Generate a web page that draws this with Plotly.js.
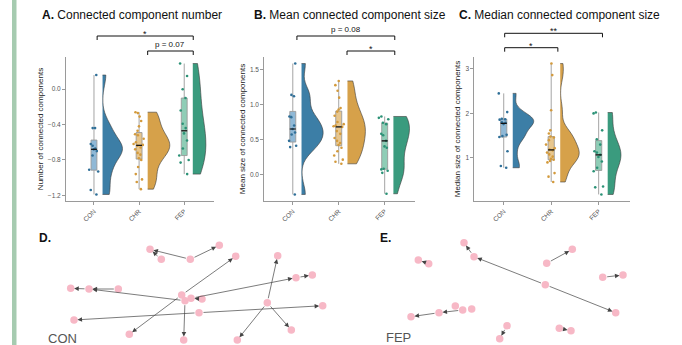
<!DOCTYPE html>
<html><head><meta charset="utf-8">
<script src="https://cdn.plot.ly/plotly-3.0.1.min.js"></script>
<style>html,body{margin:0;padding:0;background:#fff}#chart{width:682px;height:345px}</style>
</head><body><div id="chart"></div>
<script>
// ---------- data ----------
const groups = ['CON', 'CHR', 'FEP'];

// A. Connected component number
const numCON = [0.16, -0.44, -0.44, -0.62, -0.64, -0.67, -0.68, -0.70, -0.75, -0.91, -0.93, -1.14, -1.19];
const numCHR = [-0.26, -0.27, -0.31, -0.36, -0.42, -0.47, -0.51, -0.52, -0.56, -0.60, -0.62, -0.63, -0.64, -0.66, -0.68, -0.72, -0.74, -0.78, -0.80, -0.88, -0.96, -1.02, -1.05, -1.13];
const numFEP = [0.29, 0.15, 0.0, -0.10, -0.24, -0.39, -0.44, -0.50, -0.58, -0.67, -0.75, -0.80, -0.83, -0.96];

// B. Mean connected component size
const meanCON = [1.59, 1.14, 1.12, 0.83, 0.82, 0.70, 0.65, 0.60, 0.57, 0.48, 0.41, 0.39, -0.29];
const meanCHR = [1.34, 1.28, 1.20, 1.10, 0.95, 0.93, 0.90, 0.84, 0.75, 0.72, 0.70, 0.69, 0.68, 0.62, 0.58, 0.52, 0.48, 0.45, 0.42, 0.38, 0.33, 0.27, 0.21, 0.18, 0.15];
const meanFEP = [0.83, 0.81, 0.79, 0.74, 0.72, 0.58, 0.56, 0.48, 0.40, 0.38, 0.08, 0.07, 0.05, 0.02, -0.28];

// C. Median connected component size
const medCON = [2.45, 2.03, 1.88, 1.87, 1.86, 1.80, 1.79, 1.76, 1.52, 1.49, 1.47, 1.15, 0.82, 0.78];
const medCHR = [3.12, 2.86, 2.07, 1.62, 1.55, 1.48, 1.46, 1.40, 1.30, 1.22, 1.19, 1.17, 1.12, 1.08, 1.03, 0.98, 0.96, 0.93, 0.90, 0.66, 0.58, 0.46];
const medFEP = [2.02, 2.00, 1.62, 1.42, 1.30, 1.15, 1.12, 1.07, 1.02, 0.92, 0.78, 0.70, 0.36, 0.34, 0.18];

const panelTitles = ['Connected component number', 'Mean connected component size', 'Median connected component size'];
const panelLetters = ['A.', 'B.', 'C.'];
const yTitles = ['Number of connected components', 'Mean size of connected components', 'Median size of connected components'];
const yTicks = [[-1.2, -0.8, -0.4, 0.0], [0.0, 0.5, 1.0, 1.5], [1, 2, 3]];

// significance labels
const sigLabels = [['*', 'p = 0.07'], ['p = 0.08', '*'], ['**', '*']];
const sigPairs = [[[0, 2], [1, 2]], [[0, 2], [1, 2]], [[0, 2], [0, 1]]];

// D. CON network (layout coordinates)
const conNodeX = [150, 161.3, 190.3, 219.3, 235.7, 277.7, 70.7, 89, 118.3, 181.7, 185, 191, 202, 296, 312.3, 267.3, 322.7, 199, 74, 291.3, 129.3, 183.7, 237.3];
const conNodeY = [249.3, 259.3, 259.3, 245.3, 256.3, 255.7, 288.3, 289, 289, 295, 300.7, 298.3, 299, 277.7, 275, 302.7, 305.7, 312.7, 320, 330, 334.3, 340, 340];
const conEdgeFrom = [2, 1, 2, 9, 9, 8, 7, 10, 12, 11, 13, 15, 15, 15, 17, 17, 10];
const conEdgeTo   = [0, 0, 3, 20, 4, 7, 6, 7, 11, 13, 14, 5, 19, 22, 16, 18, 21];

// E. FEP network (layout coordinates)
const fepNodeX = [464, 474, 418.3, 428.7, 546.7, 572.3, 602.7, 623, 545.3, 615.7, 455.3, 462.7, 471.7, 439, 411, 507, 499.7, 559.3, 571];
const fepNodeY = [242.7, 256.7, 260, 263.7, 263.3, 249.3, 277.3, 275, 284.7, 312.7, 306, 310, 309, 312.7, 316.7, 325.7, 338.7, 328.3, 330.7];
const fepEdgeFrom = [1, 8, 8, 3, 4, 6, 10, 12, 11, 13, 15, 17];
const fepEdgeTo   = [0, 1, 9, 2, 5, 7, 11, 11, 13, 14, 16, 18];

// ---------- styling ----------
const FONT = 'Liberation Sans, Arial, Helvetica, sans-serif';
const violinColors = ['#3c7ea6', '#d6a14a', '#3a9b7e'];
const boxColors = ['#8fb8d6', '#e8c68c', '#8fcdb6'];
const pointColors = ['#2f6f98', '#d39a3c', '#2b9276'];
const W = 682, H = 345;
const xDomains = [[66 / W, 214 / W], [264.3 / W, 415 / W], [474.3 / W, 630 / W]];
const yDomain = [1 - 201 / H, 1 - 57 / H];
const violinWidths = [[0.88, 0.98, 0.58], [0.94, 0.78, 0.70], [0.88, 0.80, 0.56]];
const bracketY = [[36, 51], [36, 51], [33.3, 47.7]];
const bracketX = [[[0.07, 2.2], [1.19, 2.2]], [[0.09, 2.22], [1.18, 2.22]], [[0.02, 2.08], [0.02, 1.14]]];

// ---------- helpers ----------
function sorted(a) { return a.slice().sort((p, q) => p - q); }
function quant(s, p) { const h = (s.length - 1) * p, lo = Math.floor(h); return s[lo] + (h - lo) * ((s[lo + 1] !== undefined ? s[lo + 1] : s[lo]) - s[lo]); }
function median(a) { return quant(sorted(a), 0.5); }
function nrd0(a) {
  const n = a.length, m = a.reduce((s, v) => s + v, 0) / n;
  const sd = Math.sqrt(a.reduce((s, v) => s + (v - m) * (v - m), 0) / (n - 1));
  const s = sorted(a), iqr = quant(s, 0.75) - quant(s, 0.25);
  let lo = Math.min(sd, iqr / 1.34); if (!(lo > 0)) lo = sd || 1;
  return 0.9 * lo * Math.pow(n, -0.2);
}

const panelData = [[numCON, numCHR, numFEP], [meanCON, meanCHR, meanFEP], [medCON, medCHR, medFEP]];
const traces = [];
const layout = {
  width: W, height: H, margin: {l: 0, r: 0, t: 0, b: 0},
  paper_bgcolor: '#fff', plot_bgcolor: 'rgba(0,0,0,0)',
  showlegend: false, font: {family: FONT, color: '#222'},
  violinmode: 'overlay', boxmode: 'overlay',
  annotations: [], shapes: []
};

panelData.forEach((sets, p) => {
  const sfx = p === 0 ? '' : String(p + 1);
  const xa = 'x' + sfx, ya = 'y' + sfx;
  const all = [].concat(...sets);
  const mn = Math.min(...all), mx = Math.max(...all), pad = (mx - mn) * 0.05;
  sets.forEach((vals, i) => {
    traces.push({type: 'violin', xaxis: xa, yaxis: ya, x0: i + 0.19, y: vals, side: 'positive',
      width: violinWidths[p][i], spanmode: 'hard', bandwidth: nrd0(vals), points: false,
      box: {visible: false}, meanline: {visible: false}, scalemode: 'width',
      fillcolor: violinColors[i], opacity: 1, line: {color: '#3a3a3a', width: 0.6}, hoverinfo: 'skip'});
    traces.push({type: 'box', xaxis: xa, yaxis: ya, x0: i, y: vals, width: 0.13, boxpoints: false,
      whiskerwidth: 0, fillcolor: boxColors[i], line: {color: '#9a9a9a', width: 0.9}, hoverinfo: 'skip'});
    const m = median(vals);
    traces.push({type: 'scatter', mode: 'lines', xaxis: xa, yaxis: ya, x: [i - 0.065, i + 0.065], y: [m, m],
      line: {color: '#111', width: 1.2}, hoverinfo: 'skip'});
    traces.push({type: 'box', xaxis: xa, yaxis: ya, x0: i, y: vals, width: 0.26, boxpoints: 'all', jitter: 1,
      pointpos: 0, fillcolor: 'rgba(0,0,0,0)', line: {color: 'rgba(0,0,0,0)', width: 0},
      marker: {color: pointColors[i], size: 2.6}, hoverinfo: 'skip'});
  });
  layout['xaxis' + sfx] = {domain: xDomains[p], anchor: ya, range: [-0.62, 2.66], tickvals: [0, 1, 2], ticktext: groups,
    tickangle: -45, tickfont: {size: 6.5, color: '#555'}, ticks: 'outside', ticklen: 3, tickcolor: '#999',
    showline: true, linecolor: '#9a9a9a', linewidth: 1, showgrid: false, zeroline: false, fixedrange: true};
  layout['yaxis' + sfx] = {domain: yDomain, anchor: xa, range: [mn - pad, mx + pad], tickvals: yTicks[p],
    tickformat: p === 2 ? 'd' : '.1f', tickfont: {size: 6.5, color: '#555'}, ticks: 'outside', ticklen: 3, tickcolor: '#999',
    showline: true, linecolor: '#9a9a9a', linewidth: 1, showgrid: false, zeroline: false, fixedrange: true,
    title: {text: yTitles[p], font: {size: 8, color: '#222'}, standoff: 3}};
  // panel title
  layout.annotations.push({xref: 'paper', yref: 'paper', x: [40, 251.7, 457.3][p] / W, y: 1 - 15 / H,
    xanchor: 'left', yanchor: 'middle', showarrow: false,
    text: '<b>' + panelLetters[p] + '</b> ' + panelTitles[p], font: {size: 12, color: '#111', family: FONT}});
  // significance brackets
  sigPairs[p].forEach((pair, k) => {
    const [x1, x2] = bracketX[p][k];
    const yb = 1 - bracketY[p][k] / H, yt = 1 - (bracketY[p][k] + 4) / H;
    layout.shapes.push({type: 'path', xref: xa, yref: 'paper',
      path: `M ${x1},${yt} L ${x1},${yb} L ${x2},${yb} L ${x2},${yt}`, line: {color: '#111', width: 1}});
    const lbl = sigLabels[p][k];
    const isStar = lbl.indexOf('*') === 0;
    layout.annotations.push({xref: xa, yref: 'paper', x: (x1 + x2) / 2, y: yb + (isStar ? 2 : 7) / H,
      xanchor: 'center', yanchor: isStar ? 'middle' : 'middle', showarrow: false, text: lbl,
      font: {size: isStar ? 9 : 8, color: '#111', family: FONT}});
  });
});

// network overlay axes
layout.xaxis4 = {domain: [0, 1], range: [0, W], visible: false, fixedrange: true, anchor: 'y4'};
layout.yaxis4 = {domain: [0, 1], range: [H, 0], visible: false, fixedrange: true, anchor: 'x4'};

function addNetwork(nx, ny, ef, et) {
  ef.forEach((s, k) => {
    const t = et[k];
    layout.annotations.push({xref: 'x4', yref: 'y4', axref: 'x4', ayref: 'y4', x: nx[t], y: ny[t], ax: nx[s], ay: ny[s],
      text: '', showarrow: true, arrowhead: 2, arrowsize: 1.3, arrowwidth: 0.7, arrowcolor: '#444', standoff: 3.5, startstandoff: 3});
  });
  traces.push({type: 'scatter', mode: 'markers', xaxis: 'x4', yaxis: 'y4', x: nx, y: ny,
    marker: {color: '#f7b8c6', size: 7.5, line: {width: 0}}, hoverinfo: 'skip'});
}
addNetwork(conNodeX, conNodeY, conEdgeFrom, conEdgeTo);
addNetwork(fepNodeX, fepNodeY, fepEdgeFrom, fepEdgeTo);

layout.annotations.push({xref: 'paper', yref: 'paper', x: 36.7 / W, y: 1 - 238 / H, xanchor: 'left', yanchor: 'middle',
  showarrow: false, text: '<b>D.</b>', font: {size: 12, color: '#111', family: FONT}});
layout.annotations.push({xref: 'paper', yref: 'paper', x: 378 / W, y: 1 - 238 / H, xanchor: 'left', yanchor: 'middle',
  showarrow: false, text: '<b>E.</b>', font: {size: 12, color: '#111', family: FONT}});
layout.annotations.push({xref: 'paper', yref: 'paper', x: 46 / W, y: 1 - 338 / H, xanchor: 'left', yanchor: 'middle',
  showarrow: false, text: 'CON', font: {size: 13, color: '#555', family: FONT}});
layout.annotations.push({xref: 'paper', yref: 'paper', x: 384 / W, y: 1 - 337 / H, xanchor: 'left', yanchor: 'middle',
  showarrow: false, text: 'FEP', font: {size: 13, color: '#555', family: FONT}});

// left green bar
layout.shapes.push({type: 'rect', xref: 'paper', yref: 'paper', x0: 12 / W, x1: 16.5 / W, y0: 0, y1: 1,
  fillcolor: '#a6cbb0', line: {width: 0}, layer: 'below'});

Plotly.newPlot('chart', traces, layout, {staticPlot: true, displayModeBar: false});
</script>
</body></html>
